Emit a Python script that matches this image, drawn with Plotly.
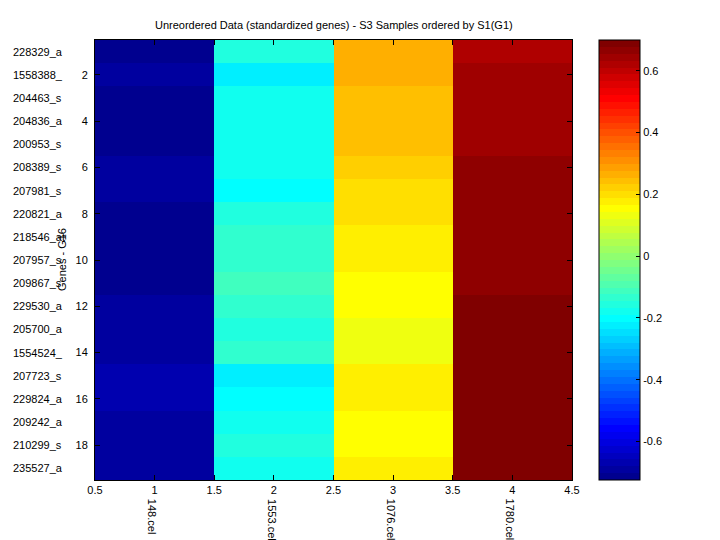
import math
import plotly.graph_objects as go

title = "Unreordered Data (standardized genes) - S3 Samples ordered by S1(G1)"
genes = ["228329_a", "1558388_", "204463_s", "204836_a", "200953_s", "208389_s",
         "207981_s", "220821_a", "218546_at", "207957_s", "209867_s", "229530_a",
         "205700_a", "1554524_", "207723_s", "229824_a", "209242_a", "210299_s",
         "235527_a"]
samples = ["148.cel", "1553.cel", "1076.cel", "1780.cel"]
rows = list(range(1, 20))
cols = [1, 2, 3, 4]

col1 = [-0.708, -0.692, -0.712, -0.710, -0.706, -0.695, -0.690, -0.718, -0.725, -0.720,
        -0.716, -0.694, -0.698, -0.696, -0.672, -0.675, -0.693, -0.697, -0.691]
col2 = [-0.157, -0.224, -0.180, -0.178, -0.182, -0.176, -0.200, -0.155, -0.135, -0.132,
        -0.112, -0.130, -0.150, -0.137, -0.222, -0.203, -0.177, -0.158, -0.183]
col3 = [0.266, 0.262, 0.244, 0.240, 0.246, 0.221, 0.199, 0.196, 0.177, 0.180,
        0.155, 0.150, 0.135, 0.130, 0.175, 0.172, 0.153, 0.158, 0.178]
col4 = [0.622, 0.645, 0.648, 0.643, 0.641, 0.666, 0.668, 0.664, 0.670, 0.662,
        0.667, 0.690, 0.700, 0.688, 0.692, 0.695, 0.686, 0.684, 0.689]

xtick_vals = [0.5, 1, 1.5, 2, 2.5, 3, 3.5, 4, 4.5]
xtick_text = ["0.5", "1", "1.5", "2", "2.5", "3", "3.5", "4", "4.5"]
ytick_vals = [2, 4, 6, 8, 10, 12, 14, 16, 18]
cb_vals = [-0.6, -0.4, -0.2, 0, 0.2, 0.4, 0.6]
cb_text = ["-0.6", "-0.4", "-0.2", "0", "0.2", "0.4", "0.6"]


def jet(m=64):
    n = math.ceil(m / 4)
    u = [k / n for k in range(1, n + 1)] + [1.0] * (n - 1) + [k / n for k in range(n, 0, -1)]
    gs = math.ceil(n / 2) - (1 if m % 4 == 1 else 0)
    g = [gs + k for k in range(1, len(u) + 1)]
    r = [x + n for x in g]
    b = [x - n for x in g]
    cm = [[0.0, 0.0, 0.0] for _ in range(m)]
    for idx, v in zip(r, u):
        if 1 <= idx <= m:
            cm[idx - 1][0] = v
    for idx, v in zip(g, u):
        if 1 <= idx <= m:
            cm[idx - 1][1] = v
    for idx, v in zip(b, u):
        if 1 <= idx <= m:
            cm[idx - 1][2] = v
    return cm


cmap = jet(64)
colorscale = []
for i, c in enumerate(cmap):
    s = "rgb(%d,%d,%d)" % tuple(round(v * 255) for v in c)
    colorscale.append([i / 64, s])
    colorscale.append([(i + 1) / 64, s])

z = [[col1[i], col2[i], col3[i], col4[i]] for i in range(len(rows))]
allv = col1 + col2 + col3 + col4
zmin, zmax = min(allv), max(allv)

FONT = "Liberation Sans, Arial, Helvetica, sans-serif"
fig = go.Figure()
fig.add_trace(go.Heatmap(
    z=z, x=cols, y=rows, colorscale=colorscale, zmin=zmin, zmax=zmax,
    colorbar=dict(
        x=(599 - 95) / 477, xanchor="left", xpad=0, y=0.5, yanchor="middle",
        len=1.0, lenmode="fraction", ypad=0,
        thickness=41, thicknessmode="pixels",
        outlinewidth=1, outlinecolor="black",
        tickvals=cb_vals, ticktext=cb_text, ticks="inside", ticklen=4,
        tickcolor="black", tickfont=dict(size=11, color="black", family=FONT),
    ),
    hoverinfo="skip",
))

fig.update_xaxes(
    range=[0.5, 4.5], tickvals=xtick_vals, ticktext=xtick_text,
    ticks="inside", ticklen=5, tickcolor="black", showline=True, linecolor="black",
    linewidth=1, mirror="allticks", showgrid=False, zeroline=False,
    tickfont=dict(size=11, color="black", family=FONT),
)
fig.update_yaxes(
    range=[19.5, 0.5], tickvals=ytick_vals, ticks="inside", ticklen=5,
    tickcolor="black", showline=True, linecolor="black", linewidth=1,
    mirror="allticks", showgrid=False, zeroline=False,
    tickfont=dict(size=11, color="black", family=FONT), ticklabelstandoff=4,
)

ann = []
for g, r in zip(genes, rows):
    ann.append(dict(x=(11 - 95) / 477, xref="paper", y=r, yref="y", text=g,
                    showarrow=False, xanchor="left", yanchor="middle",
                    font=dict(size=11, color="black", family=FONT)))
for s, c in zip(samples, cols):
    ann.append(dict(x=c, xref="x", y=-(497 - 480) / 440, yref="paper", text=s,
                    showarrow=False, xanchor="center", yanchor="top", textangle=90,
                    xshift=-2,
                    font=dict(size=11, color="black", family=FONT)))
ann.append(dict(x=(62 - 95) / 477, xref="paper", y=0.5, yref="paper", text="Genes - G16",
                showarrow=False, xanchor="center", yanchor="middle", textangle=-90,
                font=dict(size=11, color="black", family=FONT)))
ann.append(dict(x=0.5, xref="paper", y=(40 - 25) / 440 + 1, yref="paper", text=title,
                showarrow=False, xanchor="center", yanchor="middle",
                font=dict(size=11, color="black", family=FONT)))

fig.update_layout(
    width=720, height=540, margin=dict(l=95, r=148, t=40, b=60, pad=0),
    paper_bgcolor="white", plot_bgcolor="white", annotations=ann,
    showlegend=False, font=dict(family=FONT, size=11, color="black"),
)
fig.write_html("out.html", config={"displayModeBar": False},
               post_script="document.body.style.margin='0';document.body.style.overflow='hidden';")
